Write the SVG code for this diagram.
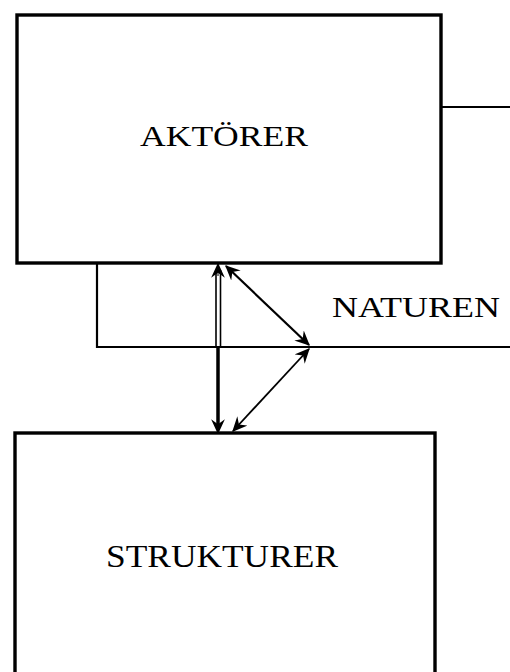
<svg xmlns="http://www.w3.org/2000/svg" width="510" height="672" viewBox="0 0 510 672">
<defs>
<style>
.box{fill:none;stroke:#000;stroke-width:3.4}
.ln{fill:none;stroke:#000;stroke-width:2.2}
.lbl{font-family:"Liberation Serif","Times New Roman",serif;fill:#000}
</style>
<marker id="ah" viewBox="0 0 12 12" refX="11" refY="6" markerWidth="15" markerHeight="15" markerUnits="userSpaceOnUse" orient="auto-start-reverse">
<path d="M0,0.5 L12,6 L0,11.5 L4,6 Z" fill="#000"/>
</marker>
</defs>
<rect width="510" height="672" fill="#fff"/>
<g id="aktorer">
<rect class="box" x="17" y="15" width="424" height="248"/>
<text class="lbl" x="140" y="146" font-size="30" textLength="168" lengthAdjust="spacingAndGlyphs">AKTÖRER</text>
</g>
<g id="strukturer">
<rect class="box" x="15" y="433" width="420" height="260"/>
<text class="lbl" x="106" y="567" font-size="32" textLength="232" lengthAdjust="spacingAndGlyphs">STRUKTURER</text>
</g>
<g id="naturen">
<text class="lbl" x="332" y="317" font-size="29" textLength="168" lengthAdjust="spacingAndGlyphs">NATUREN</text>
</g>
<g id="connectors">
<line class="ln" x1="441" y1="107" x2="510" y2="107"/>
<polyline class="ln" points="97,263 97,347 510,347"/>
<line x1="216" y1="270" x2="216" y2="347" stroke="#000" stroke-width="1.6"/>
<line x1="220.5" y1="270" x2="220.5" y2="347" stroke="#000" stroke-width="1.6"/>
<line x1="218" y1="347" x2="218" y2="426" stroke="#000" stroke-width="3.5"/>
<line x1="218" y1="276" x2="218" y2="264" stroke="#000" stroke-width="1" marker-end="url(#ah)"/>
<line x1="218" y1="418" x2="218" y2="433" stroke="#000" stroke-width="1" marker-end="url(#ah)"/>
<line class="ln" x1="226" y1="266" x2="309" y2="345" marker-start="url(#ah)" marker-end="url(#ah)"/>
<line x1="309" y1="349" x2="233" y2="431" stroke="#000" stroke-width="1.8" marker-start="url(#ah)" marker-end="url(#ah)"/>
</g>
</svg>
